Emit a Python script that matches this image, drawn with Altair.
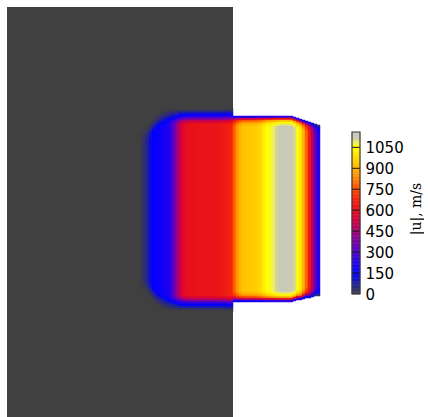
import altair as alt
import pandas as pd

# ---- data -----------------------------------------------------------------
# velocity magnitude along the jet centre line, one value per 3-unit column
u_centre = [0, 15, 35, 70, 120, 155, 170, 178, 185, 198,
            215, 270, 350, 430, 510, 570, 595, 610, 618, 620,
            622, 622, 625, 625, 625, 628, 630, 632, 640, 650,
            660, 675, 780, 860, 910, 935, 940, 945, 950, 955,
            965, 985, 1020, 1050, 1065, 1085, 1110, 1125, 1135, 1135,
            1130, 1125, 1110, 1060, 1020, 910, 790, 650, 490, 340,
            220]
# upper and lower extent of the non-zero field for each column
top_edge = [128, 127, 125, 123, 120, 117, 114, 112, 110, 109,
            108, 108, 108, 108, 108, 108, 108, 108, 108, 108,
            108, 108, 108, 108, 108, 108, 108, 108, 108, 108,
            108, 108, 116, 116, 116, 116, 116, 116, 116, 116,
            116, 116, 116, 116, 116, 116, 116, 116, 116, 116,
            116, 116, 117, 118, 119, 120, 121, 122, 123, 124,
            125]
bottom_edge = [292, 293, 295, 297, 300, 303, 306, 308, 310, 311,
               312, 312, 312, 312, 312, 312, 312, 312, 312, 312,
               312, 312, 312, 312, 312, 312, 312, 312, 312, 312,
               312, 312, 302, 302, 302, 302, 302, 302, 302, 302,
               302, 302, 302, 302, 302, 302, 302, 302, 302, 302,
               302, 302, 301, 300, 300, 299, 298, 298, 297, 296,
               296]
# relative speed at 0, 2, 4, ... units from the edge of the jet
fade_soft = [0.0, 0.06, 0.15, 0.26, 0.4, 0.6, 0.8, 0.93, 1.0]
fade_hard = [0.22, 0.55, 0.82, 0.92, 0.97, 1.0]

col_first, col_width, row_height = 137, 3, 1
step_x = 233          # where the chamber wall ends

# colour map of the legend
cmap_values = [0, 150, 220, 320, 430, 530, 610, 690, 770, 860, 940, 990, 1050, 1085, 1120, 1160]
cmap_colors = ["#404040", "#0000ff", "#2000ee", "#5800c4", "#9c0088", "#d4003c",
               "#e8101c", "#f42a0c", "#ff5600", "#ff9a00", "#ffc600", "#ffde00",
               "#ffff00", "#eeee60", "#cbcbb2", "#c6c6c6"]
bar_ticks = [0, 150, 300, 450, 600, 750, 900, 1050]
bar_max = 1160

# ---- build the field table ------------------------------------------------
rows = []
for i, u in enumerate(u_centre):
    x0 = col_first + col_width * i
    fade = fade_soft if x0 < step_x else fade_hard
    T, B = top_edge[i], bottom_edge[i]
    for y0 in range(104, 318, row_height):
        yc = y0 + row_height / 2
        if yc < T or yc > B:
            continue
        d = min(yc - T, B - yc)
        k = int(d // 2)
        f = fade[k] if k < len(fade) else 1.0
        rows.append({"x0": x0, "x1": x0 + col_width, "y0": y0, "y1": y0 + row_height, "v": round(u * f, 1)})
field = pd.DataFrame(rows)

chamber = pd.DataFrame({"x0": [7], "x1": [step_x], "y0": [7], "y1": [417], "v": [0]})

color_scale = alt.Scale(domain=cmap_values, range=cmap_colors, clamp=True, interpolate="rgb")
xs = alt.Scale(domain=[0, 343], nice=False, zero=False)
ys = alt.Scale(domain=[0, 417], nice=False, zero=False, reverse=True)

base_enc = dict(
    x=alt.X("x0:Q", scale=xs, axis=None),
    x2="x1:Q",
    y=alt.Y("y0:Q", scale=ys, axis=None),
    y2="y1:Q",
    color=alt.Color("v:Q", scale=color_scale, legend=None),
)

chamber_layer = alt.Chart(chamber).mark_rect().encode(**base_enc)
field_layer = alt.Chart(field).mark_rect(strokeWidth=0.5).encode(
    stroke=alt.Stroke("v:Q", scale=color_scale, legend=None), **base_enc)

left = alt.layer(chamber_layer, field_layer).properties(width=343, height=417)

# ---- colour bar ------------------------------------------------------------
bar_lo = list(range(0, bar_max, 10))
bar_df = pd.DataFrame({"b0": bar_lo, "b1": [b + 10 for b in bar_lo], "v": [b + 5 for b in bar_lo]})
tick_df = pd.DataFrame({"b0": bar_ticks[1:]})
frame_df = pd.DataFrame({"b0": [0], "b1": [bar_max]})

bar_scale = alt.Scale(domain=[-880.7, 2105.2], nice=False, zero=False)
bar_axis = alt.Axis(values=bar_ticks, orient="right", domain=False, ticks=False, tickSize=0,
                    grid=False, labelPadding=5, labelFont="DejaVu Sans", labelFontSize=15,
                    labelColor="#000000", format="d", title="|u|, m/s", titleAngle=270,
                    titleFont="DejaVu Serif", titleFontSize=14, titleFontWeight="normal",
                    titleColor="#000000", titlePadding=20, labelOverlap=False)

bar_cells = alt.Chart(bar_df).mark_rect(strokeWidth=0.6).encode(
    x=alt.value(0), x2=alt.value(8),
    y=alt.Y("b0:Q", scale=bar_scale, axis=bar_axis), y2="b1:Q",
    color=alt.Color("v:Q", scale=color_scale, legend=None),
    stroke=alt.Stroke("v:Q", scale=color_scale, legend=None),
)
bar_ticks_layer = alt.Chart(tick_df).mark_rule(color="#1a1a1a", strokeWidth=1).encode(
    x=alt.value(0), x2=alt.value(8),
    y=alt.Y("b0:Q", scale=bar_scale, axis=bar_axis),
)
bar_frame = alt.Chart(frame_df).mark_rect(fillOpacity=0, stroke="#3a3a3a", strokeWidth=1.2).encode(
    x=alt.value(0), x2=alt.value(8),
    y=alt.Y("b0:Q", scale=bar_scale, axis=bar_axis), y2="b1:Q",
)
right = alt.layer(bar_cells, bar_ticks_layer, bar_frame).properties(width=8, height=417)

chart = alt.hconcat(left, right, spacing=8).properties(
    padding=0, background="white"
).configure_view(stroke=None)

chart.save("out.html", embed_options={"renderer": "svg", "actions": False})
